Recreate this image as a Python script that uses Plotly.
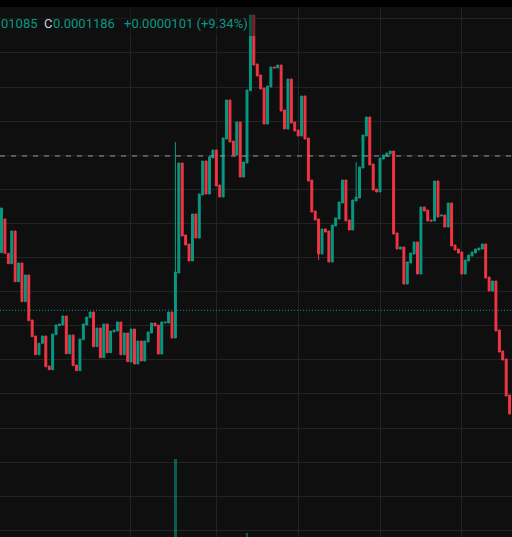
import plotly.graph_objects as go

# ---- data (price units; arbitrary linear scale) ----
opens = [284.3, 318, 283.7, 273.3, 306, 255.3, 274, 235.3, 262, 217,
         201, 182.3, 193.7, 201, 171, 167.3, 202.3, 211.3, 212, 221,
         183.3, 202, 172, 166.3, 197.3, 212, 219.3, 225, 190.3, 209,
         179.3, 213, 184.3, 205, 206, 215, 182.3, 204, 175, 208,
         173, 196, 176, 195, 204, 214, 212, 183, 214, 214,
         225, 199, 264, 374, 302, 293, 276, 323, 299, 342,
         376, 343, 379, 387, 352, 340, 398, 437, 396, 382,
         415, 360, 374, 446.3, 522, 473, 462, 449, 413, 450,
         470, 469, 472, 427, 408, 458, 415, 407, 401, 441,
         399, 357, 326, 318, 283, 308, 306, 275, 311, 318,
         334, 357, 317, 307, 336, 339, 369, 401, 420, 373,
         348, 345, 378, 381, 383, 386, 304, 288, 290, 253,
         274, 283, 295, 263, 330, 327, 317, 316, 356, 321,
         322, 310, 334, 292, 288, 285, 263, 276, 281, 284,
         287, 288, 293, 260, 246, 256, 207, 186, 178, 142]
closes = [329, 283.7, 273.3, 306, 255.3, 274, 235.3, 262, 216.3, 200.3,
          182.3, 193.7, 201, 170.3, 167.3, 203, 212, 213, 221, 183.3,
          202, 171.3, 166.3, 198, 213, 220, 225, 190.3, 209, 179.3,
          213, 184.3, 206, 207, 215, 182.3, 204, 175.3, 208, 173,
          196, 176, 196, 205, 214, 211, 183, 215, 215, 225,
          199, 265, 374, 301, 292, 276, 323, 299, 343, 376,
          343, 380, 387, 351, 340, 399, 437, 395, 382, 415,
          360, 375, 447, 522, 472, 461, 448, 413, 451, 470,
          469, 472, 426, 408, 458, 414, 406, 401, 441, 398,
          356, 325, 317, 283, 308, 305, 275, 312, 319, 335,
          357, 316, 307, 337, 340, 370, 402, 420, 372, 347,
          345, 379, 382, 384, 386, 303, 288, 290, 253, 275,
          284, 295, 263, 330, 326, 316, 316, 356, 320, 322,
          310, 334, 291, 287, 284, 263, 277, 282, 285, 288,
          289, 293, 259, 246, 256, 206, 185, 177, 141, 123]
wick_high = {51: 395, 104: 375}
wick_low = {93: 277}
highs = [wick_high.get(i, max(o, c)) for i, (o, c) in enumerate(zip(opens, closes))]
lows = [wick_low.get(i, min(o, c)) for i, (o, c) in enumerate(zip(opens, closes))]
volumes = [0] * len(opens)
volumes[51] = 78
volumes[72] = 4
bars = list(range(len(opens)))
session_breaks = [37.9, 63, 87, 111, 135]
dashed_level = 381
dotted_level = 226.7

GREEN = "#089981"
RED = "#F23645"
BG = "#0f0f0f"
GRID = "#242424"

fig = go.Figure()
fig.add_trace(go.Bar(
    x=bars, y=volumes, yaxis="y2", width=0.65,
    marker=dict(color="rgba(8,153,129,0.55)", line=dict(width=0)),
    hoverinfo="skip", showlegend=False))
fig.add_trace(go.Candlestick(
    x=bars, open=opens, high=highs, low=lows, close=closes,
    increasing=dict(line=dict(color=GREEN, width=1), fillcolor=GREEN),
    decreasing=dict(line=dict(color=RED, width=1), fillcolor=RED),
    whiskerwidth=0, hoverinfo="skip", showlegend=False))

fig.add_shape(type="line", xref="paper", x0=0, x1=1, yref="y", y0=dashed_level, y1=dashed_level,
              line=dict(color="#9598a1", width=1, dash="5px,6px"))
fig.add_shape(type="line", xref="paper", x0=0, x1=1, yref="y", y0=dotted_level, y1=dotted_level,
              line=dict(color=GREEN, width=1, dash="1px,2px"))
# legend backdrop
fig.add_shape(type="rect", xref="paper", yref="paper", x0=0, x1=256 / 512, y0=(537 - 36) / 530, y1=1,
              fillcolor="rgba(15,15,15,0.5)", line=dict(width=0), layer="above")

ty = (537 - 23.5) / 530
for txt, px, anchor, col in [("01085", 0, "left", GREEN), ("C", 43, "left", "#d1d4dc"),
                             ("0.0001186", 52, "left", GREEN), ("+0.0000101 (+9.34%)", 123, "left", GREEN)]:
    fig.add_annotation(text=txt, xref="paper", yref="paper", x=px / 512, y=ty, xanchor=anchor,
                       yanchor="middle", showarrow=False, borderpad=0,
                       font=dict(family="Roboto", size=13, color=col))

fig.update_layout(
    width=512, height=537, margin=dict(l=0, r=0, t=7, b=0),
    paper_bgcolor="#000000", plot_bgcolor=BG, boxgap=0.2,
    xaxis=dict(range=[-0.44, 149.71], rangeslider=dict(visible=False), showticklabels=False,
               tickvals=session_breaks, showgrid=True, gridcolor=GRID, gridwidth=1, zeroline=False,
               showline=False, ticks=""),
    yaxis=dict(range=[0, 530], tick0=6.7, dtick=34.1, showticklabels=False, showgrid=True,
               gridcolor=GRID, gridwidth=1, zeroline=False, showline=False, ticks=""),
    yaxis2=dict(range=[0, 530], overlaying="y", showgrid=False, showticklabels=False,
                zeroline=False, showline=False),
    bargap=0,
)
fig.write_html("out.html")
